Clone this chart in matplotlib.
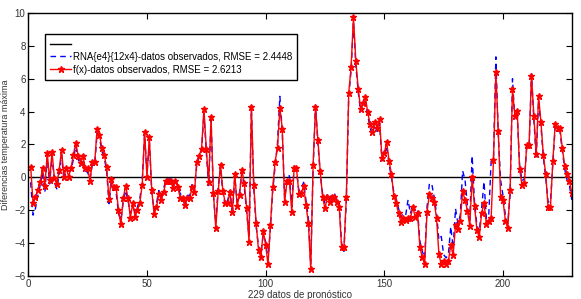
import matplotlib
matplotlib.use("Agg")
import matplotlib.pyplot as plt
import numpy as np

plt.rcParams['font.family'] = ['Liberation Sans', 'DejaVu Sans']

# f(x) - observed (red, with markers)
red_vals = [
    0.66, -1.58, -1.21, -0.76, -0.30, 0.56, -0.50, 1.47, -0.15, 1.53,
    -0.05, -0.42, 0.46, 1.64, 0.05, 0.56, 0.05, 0.56, 1.37, 2.10,
    1.33, 0.90, 1.33, 0.56, 0.56, -0.21, 0.96, 0.96, 2.96, 2.60,
    1.78, 1.37, 0.62, -1.33, -0.11, -0.60, -0.60, -2.00, -2.86, -1.27,
    -0.52, -1.23, -2.45, -1.58, -2.39, -1.98, -1.53, -0.46, 2.76, 0.05,
    2.45, -0.76, -2.23, -1.82, -1.00, -1.37, -0.92, -0.25, -0.25, -0.25,
    -0.66, -0.25, -0.60, -1.23, -1.27, -1.68, -1.27, -1.27, -0.60, -0.92,
    0.96, 1.33, 1.74, 4.16, 1.74, -0.31, 3.65, -0.96, -3.10, -0.86,
    0.76, -0.86, -1.53, -1.58, -0.92, -2.08, 0.21, -1.74, -1.07, 0.46,
    -0.36, -1.88, -3.91, 4.28, -0.46, -2.80, -4.42, -4.87, -3.26, -4.12,
    -5.30, -2.90, -0.60, 0.96, 1.80, 4.22, 2.96, -1.47, -0.25, -0.21,
    -2.08, 0.56, 0.56, -1.00, -0.96, -0.52, -1.68, -2.76, -5.60, 0.76,
    4.26, 2.30, 0.36, -1.21, -1.88, -1.21, -1.47, -1.17, -1.17, -1.47,
    -1.82, -4.26, -4.26, -1.17, 5.13, 6.72, 9.74, 7.06, 5.40, 4.18,
    4.52, 4.89, 3.97, 3.24, 2.75, 3.36, 3.00, 3.55, 1.17, 1.47,
    2.15, 1.00, 0.21, -1.13, -1.58, -2.19, -2.73, -2.49, -2.59, -2.50,
    -2.49, -1.82, -2.39, -2.19, -4.26, -4.87, -5.30, -2.08, -1.03, -1.23,
    -1.47, -2.49, -4.67, -5.30, -5.10, -5.30, -5.10, -4.12, -4.73, -2.90,
    -3.15, -2.63, -0.86, -1.37, -2.02, -2.96, 0.00, -1.74, -3.20, -3.65,
    -2.15, -1.58, -2.84, -2.63, -2.49, 1.07, 6.41, 2.84, -1.21, -1.37,
    -2.63, -3.10, -0.76, 5.38, 3.75, 4.05, 0.50, -0.46, -0.36, 1.98,
    1.98, 6.19, 3.75, 1.40, 4.93, 3.34, 1.37, 0.21, -1.82, -1.82,
    1.00, 3.26, 3.00, 3.00, 1.78, 0.70, 0.21, -0.25, -0.96]

# RNA{e4}{12x4} - observed (blue dashed)
blue_vals = [
    -0.30, -2.30, -1.90, -1.10, -0.50, 0.30, -0.90, 1.20, -0.40, 1.30,
    -0.30, -0.70, 0.20, 1.40, -0.20, 0.40, 0.36, 0.40, 1.10, 1.90,
    1.10, 0.70, 1.10, 0.40, 0.30, -0.10, 0.80, 0.80, 2.70, 2.40,
    1.60, 1.20, 0.40, -1.60, -0.30, -0.80, -0.90, -2.20, -2.60, -1.50,
    -0.80, -1.40, -2.20, -1.80, -2.10, -1.80, -1.30, -0.20, 2.60, 0.20,
    2.20, -0.90, -2.00, -1.60, -0.80, -1.20, -0.70, -0.10, -0.10, -0.10,
    -0.50, -0.10, -0.50, -1.00, -1.10, -1.80, -1.10, -1.10, -0.40, -0.70,
    0.80, 1.20, 1.60, 3.90, 1.50, -0.50, 3.50, -1.10, -2.80, -0.60,
    0.60, -1.00, -1.70, -1.40, -0.80, -2.30, 0.00, -1.50, -0.90, 0.30,
    -0.60, -2.10, -3.60, 4.10, -0.70, -3.00, -4.20, -4.60, -3.50, -3.90,
    -5.00, -3.10, -0.80, 0.70, 2.10, 4.93, 2.80, -1.30, 0.00, 0.10,
    -1.80, 0.80, 0.40, -0.80, -0.70, -0.30, -1.40, -2.50, -5.30, 0.50,
    4.40, 2.10, 0.20, -1.00, -1.60, -1.00, -1.30, -1.00, -1.00, -1.30,
    -1.60, -4.00, -4.50, -1.40, 4.90, 6.50, 9.50, 6.80, 5.20, 4.00,
    4.30, 4.60, 3.80, 3.00, 2.60, 3.20, 2.80, 3.30, 1.00, 1.30,
    1.90, 0.80, 0.00, -0.90, -1.30, -1.90, -2.40, -2.20, -2.30, -1.37,
    -2.20, -1.68, -2.10, -2.00, -3.90, -4.50, -4.90, -1.80, -0.36, -0.40,
    -1.20, -2.20, -3.80, -3.60, -4.70, -4.90, -4.70, -3.00, -4.30, -1.90,
    -2.80, -2.30, 0.40, -0.15, -1.70, -2.60, 1.31, -1.50, -2.90, -3.30,
    -1.90, -0.26, -2.50, -2.30, 0.96, 1.20, 7.33, 2.60, -0.18, -1.10,
    -2.30, -2.80, -1.07, 6.00, 3.50, 3.80, 0.75, -0.20, -0.10, 1.80,
    1.80, 6.30, 3.50, 1.20, 4.70, 3.10, 1.20, 0.00, -1.50, -1.50,
    0.80, 3.10, 2.80, 2.80, 1.60, 0.50, -0.15, -0.50, -1.37]

labels = ['',
          'RNA{e4}{12x4}-datos observados, RMSE = 2.4448',
          'f(x)-datos observados, RMSE = 2.6213']
x_ticks = [0, 50, 100, 150, 200]
y_ticks = [-6, -4, -2, 0, 2, 4, 6, 8, 10]

x = np.arange(1, len(red_vals) + 1)

fig = plt.figure(figsize=(5.81, 2.99), dpi=100)
ax = fig.add_axes([0.0487, 0.077, 0.9355, 0.8795])

h0 = ax.axhline(0, color='black', lw=1.0)
h1, = ax.plot(x, blue_vals, color='blue', ls='--', lw=1.0, dashes=(4, 3))
h2, = ax.plot(x, red_vals, color='red', ls='-', lw=1.0,
              marker='*', markersize=4.5, markeredgewidth=1.0)

ax.set_xlim(0, 229)
ax.set_ylim(-6, 10)
ax.set_xticks(x_ticks)
ax.set_yticks(y_ticks)
ax.tick_params(direction='in', length=4, width=0.8, top=True, right=True,
               labelsize=7, colors='black', labelcolor='#333333', pad=2)
for s in ax.spines.values():
    s.set_linewidth(1.0)

ax.set_xlabel('229 datos de pronóstico', fontsize=7, color='#333333', labelpad=1)
ax.set_ylabel('Diferencias temperatura máxima', fontsize=6.5, color='#333333', labelpad=3)

leg = ax.legend([h0, h1, h2], labels, loc='upper left',
                bbox_to_anchor=(0.0307, 0.92), borderaxespad=0,
                fontsize=7, handlelength=2.2, handletextpad=0.2,
                labelspacing=0.3, borderpad=0.5, fancybox=False,
                framealpha=1, edgecolor='black')
leg.get_frame().set_linewidth(1.0)

fig.savefig('out.png', dpi=100)
